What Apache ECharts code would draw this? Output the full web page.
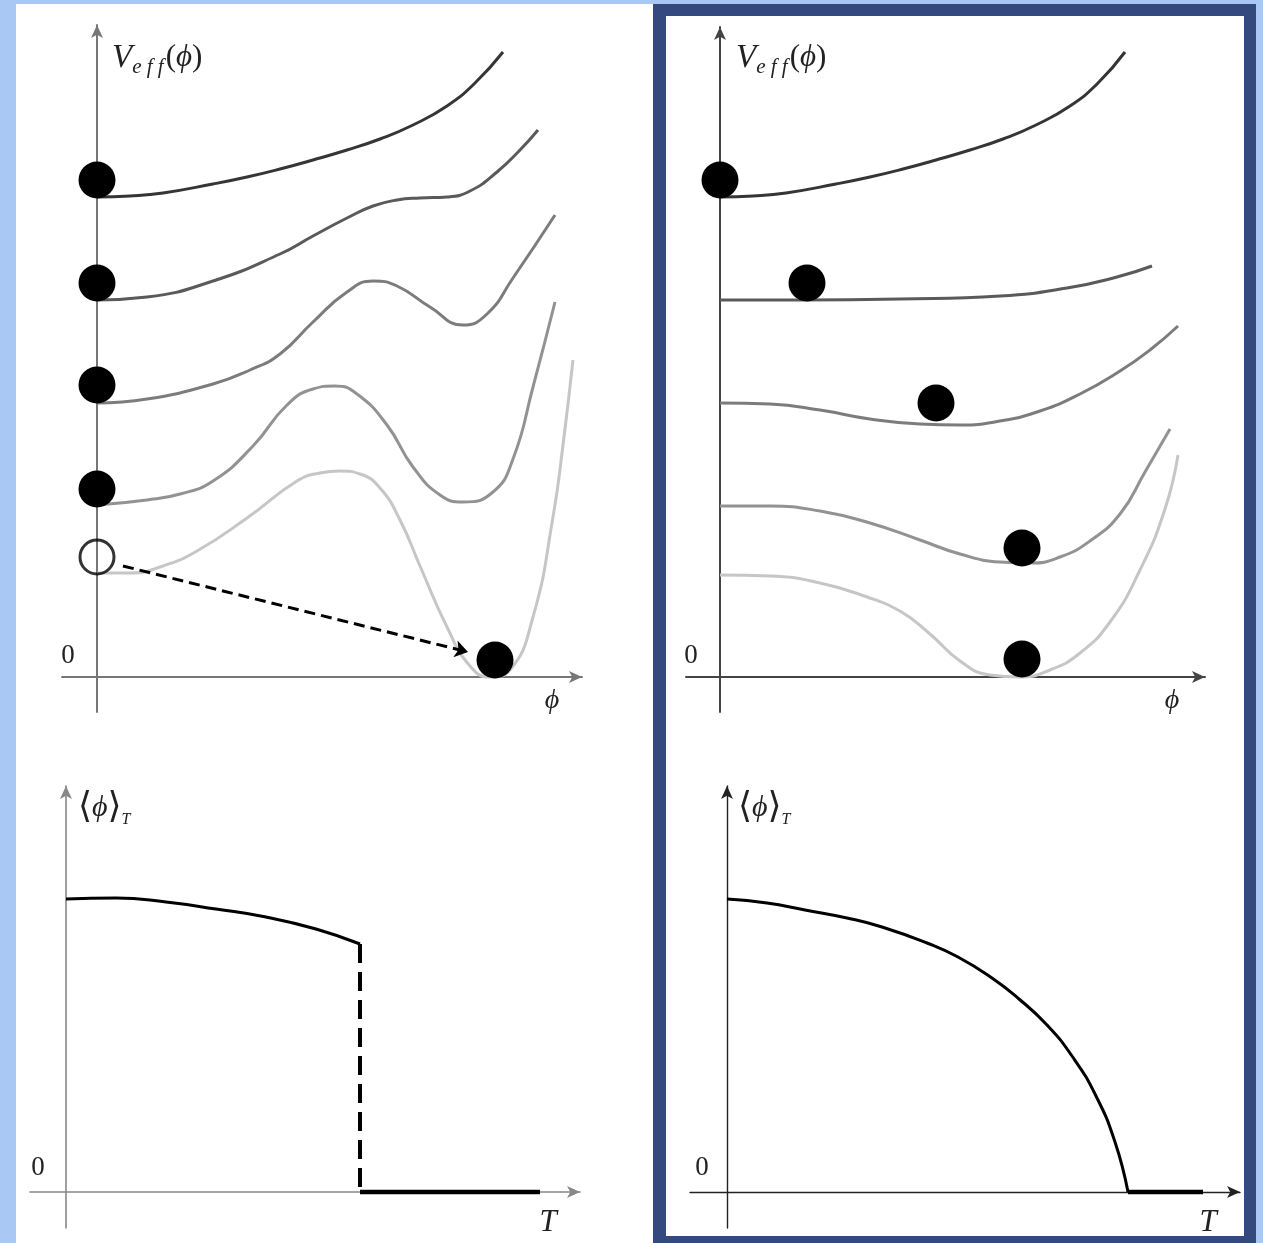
<!DOCTYPE html>
<html>
<head>
<meta charset="utf-8">
<script src="https://cdn.jsdelivr.net/npm/echarts@6/dist/echarts.min.js"></script>
<style>
  html, body { margin: 0; padding: 0; background: #aac8f4; }
  #c { width: 1263px; height: 1243px; }
</style>
</head>
<body>
<div id="c"></div>
<script>
// ---- Effective potential V_eff(phi) at decreasing temperature, first-order transition ----
const firstOrderV1 = [[0,4.80],[0.33,4.81],[0.66,4.84],[1.16,4.93],[1.50,5.00],[1.83,5.08],[2.16,5.17],[2.50,5.27],[2.83,5.38],[3.16,5.52],[3.50,5.71],[3.78,5.94],[4.06,6.25]];
const firstOrderV2 = [[0,3.77],[0.50,3.80],[1.16,3.96],[1.83,4.23],[2.16,4.41],[2.50,4.59],[2.76,4.71],[3.00,4.77],[3.23,4.79],[3.50,4.80],[3.73,4.86],[4.00,5.05],[4.23,5.27],[4.41,5.47]];
const firstOrderV3 = [[0,2.74],[0.50,2.78],[1.16,2.93],[1.53,3.07],[1.83,3.23],[2.16,3.55],[2.50,3.85],[2.76,3.96],[3.00,3.91],[3.33,3.70],[3.66,3.52],[3.90,3.63],[4.16,3.99],[4.58,4.62]];
const firstOrderV4 = [[0,1.72],[0.50,1.77],[0.83,1.83],[1.16,1.96],[1.56,2.31],[1.90,2.72],[2.16,2.88],[2.38,2.91],[2.60,2.83],[2.90,2.52],[3.16,2.10],[3.43,1.82],[3.66,1.75],[3.96,1.85],[4.16,2.18],[4.36,2.90],[4.58,3.75]];
const firstOrderV5 = [[0,1.04],[0.33,1.04],[0.66,1.11],[1.00,1.26],[1.50,1.59],[2.00,1.96],[2.23,2.04],[2.43,2.06],[2.63,2.03],[2.83,1.89],[3.03,1.57],[3.23,1.11],[3.50,0.50],[3.73,0.11],[3.93,0.00],[4.13,0.07],[4.36,0.60],[4.56,1.60],[4.66,2.32],[4.76,3.17]];
// field value held at each temperature (filled balls) and the metastable state (open circle)
const firstOrderBalls = [[0,4.97],[0,3.94],[0,2.92],[0,1.88],[3.98,0.17]];
const firstOrderFalseVacuum = [[0,1.20]];
const firstOrderJump = [[0.26,1.11],[3.71,0.25]];

// ---- Effective potential V_eff(phi), second-order transition ----
const secondOrderV1 = [[0,4.80],[0.33,4.81],[0.66,4.84],[1.16,4.93],[1.50,5.00],[1.83,5.08],[2.16,5.17],[2.50,5.27],[2.83,5.38],[3.16,5.52],[3.50,5.71],[3.78,5.94],[4.05,6.25]];
const secondOrderV2 = [[0,3.77],[0.80,3.77],[1.80,3.78],[2.80,3.81],[3.47,3.89],[3.97,4.00],[4.32,4.11]];
const secondOrderV3 = [[0,2.74],[0.50,2.73],[1.00,2.67],[1.50,2.58],[2.00,2.53],[2.40,2.52],[2.80,2.56],[3.20,2.66],[3.60,2.83],[4.00,3.06],[4.30,3.27],[4.58,3.51]];
const secondOrderV4 = [[0,1.71],[0.50,1.71],[1.00,1.66],[1.50,1.54],[2.00,1.37],[2.40,1.23],[2.80,1.15],[3.10,1.14],[3.40,1.20],[3.70,1.36],[4.00,1.63],[4.25,2.05],[4.50,2.48]];
const secondOrderV5 = [[0,1.02],[0.50,1.01],[1.00,0.94],[1.47,0.80],[1.80,0.66],[2.10,0.43],[2.40,0.16],[2.70,0.02],[3.00,0.00],[3.30,0.07],[3.60,0.24],[3.90,0.55],[4.20,1.07],[4.45,1.68],[4.58,2.22]];
const secondOrderBalls = [[0,4.97],[0.87,3.94],[2.16,2.74],[3.02,1.29],[3.02,0.18]];

// ---- Order parameter <phi>_T versus temperature ----
const firstOrderVev = [[0,2.93],[0.50,2.94],[1.00,2.90],[1.50,2.83],[2.00,2.75],[2.50,2.63],[2.94,2.48]];
const firstOrderDrop = [[2.94,2.48],[2.94,0]];
const firstOrderSym = [[2.94,0],[4.74,0]];
const secondOrderVev = [[0,2.93],[0.40,2.89],[0.78,2.82],[1.20,2.74],[1.55,2.65],[2.00,2.49],[2.31,2.35],[2.65,2.14],[2.92,1.93],[3.20,1.67],[3.45,1.36],[3.69,0.96],[3.88,0.50],[4.01,0]];
const secondOrderSym = [[4.01,0],[4.76,0]];

const curveColors = ['#353535', '#5a5a5a', '#7c7c7c', '#929292', '#c6c6c6'];

const grids = [
  { left: 62,  top: 25,  width: 520, height: 687 },
  { left: 686, top: 27,  width: 519, height: 685 },
  { left: 30,  top: 786, width: 550, height: 442 },
  { left: 690, top: 786, width: 550, height: 442 }
].map(g => Object.assign({ containLabel: false, outerBoundsMode: 'none' }, g));

const ranges = [
  { x: [-0.35, 4.85], y: [-0.35, 6.52], color: '#777', width: 2 },
  { x: [-0.34, 4.85], y: [-0.35, 6.50], color: '#444', width: 2 },
  { x: [-0.36, 5.14], y: [-0.36, 4.06], color: '#888', width: 1.6 },
  { x: [-0.37, 5.13], y: [-0.36, 4.06], color: '#222', width: 1.4 }
];

function axis(i, dir) {
  const r = ranges[i];
  return {
    type: 'value', gridIndex: i,
    min: r[dir][0], max: r[dir][1],
    axisLine: { show: true, onZero: true, symbol: ['none', 'arrow'], symbolSize: [9, 13],
                lineStyle: { color: r.color, width: r.width } },
    axisTick: { show: false }, axisLabel: { show: false }, splitLine: { show: false }
  };
}

function curve(i, data, color, width) {
  return {
    type: 'line', xAxisIndex: i, yAxisIndex: i, data: data, smooth: 0.5,
    showSymbol: false, silent: true, clip: false, z: 2,
    lineStyle: { color: color, width: width }
  };
}

function balls(i, data) {
  return {
    type: 'scatter', xAxisIndex: i, yAxisIndex: i, data: data, symbolSize: 37,
    silent: true, z: 4, itemStyle: { color: '#000', opacity: 1 }
  };
}

const serif = '"Liberation Serif", "DejaVu Serif", serif';

function vLabel(x) {
  return {
    type: 'text', x: x, y: 38, z: 100,
    style: {
      text: '{v|V}{s|e f f}{p|(}{f|ϕ}{p|)}',
      rich: {
        v: { fontSize: 33, fontStyle: 'italic', fontFamily: serif, fill: '#222', lineHeight: 40 },
        s: { fontSize: 21, fontStyle: 'italic', fontFamily: serif, fill: '#222', lineHeight: 16, verticalAlign: 'bottom', padding: [0, 2, 0, 0] },
        p: { fontSize: 31, fontFamily: serif, fill: '#222', lineHeight: 40 },
        f: { fontSize: 31, fontStyle: 'italic', fontFamily: serif, fill: '#222', lineHeight: 40 }
      }
    }
  };
}

function vevLabel(x) {
  return {
    type: 'text', x: x, y: 788, z: 100,
    style: {
      text: '{p|⟨}{f|ϕ}{p|⟩}{s|T}',
      rich: {
        p: { fontSize: 36, fontFamily: serif, fill: '#222', lineHeight: 40 },
        f: { fontSize: 30, fontStyle: 'italic', fontFamily: serif, fill: '#222', lineHeight: 40 },
        s: { fontSize: 16, fontStyle: 'italic', fontFamily: serif, fill: '#222', lineHeight: 14, verticalAlign: 'bottom' }
      }
    }
  };
}

function plain(text, x, y, size, italic) {
  return {
    type: 'text', x: x, y: y, z: 100,
    style: { text: text, font: (italic ? 'italic ' : '') + size + 'px ' + serif,
             fill: '#222', align: 'center', verticalAlign: 'middle' }
  };
}

const chart = echarts.init(document.getElementById('c'), null, { renderer: 'canvas' });

chart.setOption({
  backgroundColor: '#aac8f4',
  animation: false,
  graphic: [
    { type: 'rect', z: 0, shape: { x: 16, y: 4, width: 637, height: 1239 }, style: { fill: '#ffffff' } },
    { type: 'rect', z: 0, shape: { x: 653, y: 4, width: 603, height: 1239 }, style: { fill: '#344a7f' } },
    { type: 'rect', z: 0, shape: { x: 666, y: 16, width: 578, height: 1220 }, style: { fill: '#ffffff' } },
    vLabel(112), vLabel(736),
    vevLabel(78), vevLabel(738),
    plain('0', 68, 656, 27, false), plain('0', 691, 656, 27, false),
    plain('0', 38, 1168, 27, false), plain('0', 702, 1168, 27, false),
    plain('ϕ', 552, 701, 28, true), plain('ϕ', 1172, 701, 28, true),
    plain('T', 548, 1223, 31, true), plain('T', 1208, 1223, 31, true)
  ],
  grid: grids,
  xAxis: [axis(0, 'x'), axis(1, 'x'), axis(2, 'x'), axis(3, 'x')],
  yAxis: [axis(0, 'y'), axis(1, 'y'), axis(2, 'y'), axis(3, 'y')],
  series: [
    curve(0, firstOrderV1, curveColors[0], 3),
    curve(0, firstOrderV2, curveColors[1], 3),
    curve(0, firstOrderV3, curveColors[2], 3),
    curve(0, firstOrderV4, curveColors[3], 3),
    curve(0, firstOrderV5, curveColors[4], 3),
    balls(0, firstOrderBalls),
    {
      type: 'scatter', xAxisIndex: 0, yAxisIndex: 0, data: firstOrderFalseVacuum,
      symbolSize: 34, silent: true, z: 4,
      itemStyle: { color: 'rgba(255,255,255,0)', borderColor: '#000', borderWidth: 3 }
    },
    {
      type: 'lines', coordinateSystem: 'cartesian2d', xAxisIndex: 0, yAxisIndex: 0,
      data: [{ coords: firstOrderJump }], silent: true, z: 3,
      symbol: ['none', 'arrow'], symbolSize: 13,
      lineStyle: { color: '#000', width: 3, type: [11, 6], opacity: 1 }
    },

    curve(1, secondOrderV1, curveColors[0], 3),
    curve(1, secondOrderV2, curveColors[1], 3),
    curve(1, secondOrderV3, curveColors[2], 3),
    curve(1, secondOrderV4, curveColors[3], 3),
    curve(1, secondOrderV5, curveColors[4], 3),
    balls(1, secondOrderBalls),

    curve(2, firstOrderVev, '#000', 3),
    {
      type: 'line', xAxisIndex: 2, yAxisIndex: 2, data: firstOrderDrop, showSymbol: false,
      silent: true, z: 3, lineStyle: { color: '#000', width: 4, type: [19, 9] }
    },
    curve(2, firstOrderSym, '#000', 4.5),

    curve(3, secondOrderVev, '#000', 3),
    curve(3, secondOrderSym, '#000', 4.5)
  ]
});
</script>
</body>
</html>
